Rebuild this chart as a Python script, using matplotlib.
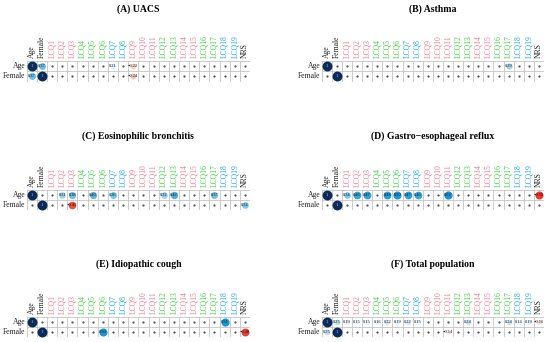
import numpy as np
import matplotlib
matplotlib.use("Agg")
import matplotlib.pyplot as plt
from matplotlib.colors import LinearSegmentedColormap

columns = ["Age", "Female"] + [f"LCQ{i}" for i in range(1, 20)] + ["NRS"]
rows = ["Age", "Female"]
col_groups = ["k", "k", "p", "p", "p", "g", "g", "g", "b", "b", "p", "p", "p",
              "g", "g", "p", "p", "g", "g", "b", "b", "k"]

titles = ["(A) UACS", "(B) Asthma", "(C) Eosinophilic bronchitis",
          "(D) Gastro\u2212esophageal reflux", "(E) Idiopathic cough", "(F) Total population"]

#              Age  Fem  L1   L2   L3   L4   L5   L6   L7   L8   L9   L10  L11  L12  L13  L14  L15  L16  L17  L18  L19  NRS
uacs_age    = [1, 0.37, 0, 0, 0, 0, 0, 0, 0.21, 0, -0.22, 0, 0, 0, 0, 0, 0, 0, 0, 0, 0, 0]
uacs_female = [0.37, 1, 0, 0, 0, 0, 0, 0, 0, 0, -0.24, 0, 0, 0, 0, 0, 0, 0, 0, 0, 0, 0]
asthma_age    = [1, 0, 0, 0, 0, 0, 0, 0, 0, 0, 0, 0, 0, 0, 0, 0, 0, 0, 0.29, 0, 0, 0]
asthma_female = [0, 1, 0, 0, 0, 0, 0, 0, 0, 0, 0, 0, 0, 0, 0, 0, 0, 0, 0, 0, 0, 0]
eb_age    = [1, 0, 0, 0.31, 0.38, 0, 0.4, 0, 0.36, 0, 0, 0, 0, 0.32, 0.42, 0, 0, 0, 0.37, 0, 0, 0]
eb_female = [0, 1, 0, 0, -0.45, 0, 0, 0, 0, 0, 0, 0, 0, 0, 0, 0, 0, 0, 0, 0, 0, 0.34]
gerc_age    = [1, 0, 0.34, 0.46, 0.47, 0, 0.48, 0.5, 0.47, 0.46, 0, 0, 0.52, 0, 0, 0, 0, 0, 0, 0, 0, -0.5]
gerc_female = [0, 1, 0, 0, 0, 0, 0, 0, 0, 0, 0, 0, 0, 0, 0, 0, 0, 0, 0, 0, 0, 0]
ic_age    = [1, 0, 0, 0, 0, 0, 0, 0, 0, 0, 0, 0, 0, 0, 0, 0, 0, 0, 0, 0.51, 0, 0]
ic_female = [0, 1, 0, 0, 0, 0, 0, 0.5, 0, 0, 0, 0, 0, 0, 0, 0, 0, 0, 0, 0, 0, -0.48]
total_age    = [1, 0.25, 0.19, 0.15, 0.15, 0.16, 0.22, 0.19, 0.22, 0.15, 0, 0, 0, 0, 0.24, 0, 0, 0, 0.24, 0.14, 0.19, -0.16]
total_female = [0.25, 1, 0, 0, 0, 0, 0, 0, 0, 0, 0, 0, -0.14, 0, 0, 0, 0, 0, 0, 0, 0, 0]

panels = [(uacs_age, uacs_female), (asthma_age, asthma_female), (eb_age, eb_female),
          (gerc_age, gerc_female), (ic_age, ic_female), (total_age, total_female)]

group_colors = {"k": "#222222", "p": "#f27a8c", "g": "#3ccf3c", "b": "#1fa6ee"}

cmap = LinearSegmentedColormap.from_list(
    "corr", [(0.0, "#7a0c0c"), (0.25, "#e8382c"), (0.33, "#f38062"), (0.4, "#fbdcd2"),
             (0.5, "#ffffff"), (0.6, "#e2f2fb"), (0.67, "#80c8ec"), (0.75, "#1c98d5"),
             (0.88, "#145e9c"), (1.0, "#0a2a5a")])

W, H, DPI = 550, 342, 100
fig = plt.figure(figsize=(W / DPI, H / DPI), dpi=DPI)
serif = ["Liberation Serif", "DejaVu Serif"]

left_x = (26.7, 250.0)
right_x = (321.7, 544.0)
row_y = [(61.0, 81.5, 9.0), (189.5, 210.0, 136.5), (316.5, 337.0, 264.0)]

ncol = len(columns)
for k, (age_vals, fem_vals) in enumerate(panels):
    xs = left_x if k % 2 == 0 else right_x
    y0, y1, ty = row_y[k // 2]
    x0, x1 = xs
    ax = fig.add_axes([x0 / W, 1 - y1 / H, (x1 - x0) / W, (y1 - y0) / H])
    ax.set_xlim(-0.5, ncol - 0.5)
    ax.set_ylim(1.5, -0.5)
    ax.axis("off")
    cell_px = (x1 - x0) / ncol
    for i in range(ncol + 1):
        ax.plot([i - 0.5, i - 0.5], [-0.5, 1.5], color="#c4c4c4", lw=0.6, zorder=1)
    for j in range(3):
        ax.plot([-0.5, ncol - 0.5], [j - 0.5, j - 0.5], color="#c4c4c4", lw=0.6, zorder=1)
    for r, vals in enumerate([age_vals, fem_vals]):
        for c, v in enumerate(vals):
            if v == 0:
                ax.scatter([c], [r], s=2.6, color="#555555", zorder=3, linewidths=0)
                continue
            frac = min(0.98, 0.35 + 0.9 * abs(v))
            d_pt = cell_px * frac * 72 / DPI
            ax.scatter([c], [r], s=d_pt ** 2, color=cmap((v + 1) / 2), zorder=2, linewidths=0)
            if v == 1:
                ax.text(c, r, "1", ha="center", va="center", fontsize=3.2,
                        color="#cccccc", family=serif, zorder=4)
            else:
                ax.text(c, r, f"{v:.2f}".replace("-", "\u2212"), ha="center", va="center",
                        fontsize=3.2, color="#111111", family=serif, zorder=4)
    for c, (lab, g) in enumerate(zip(columns, col_groups)):
        fig.text((x0 + (c + 0.5) * cell_px) / W, 1 - (y0 - 2.5) / H, lab, rotation=90,
                 ha="center", va="bottom", fontsize=5.5, color=group_colors[g], family=serif)
    rh = (y1 - y0) / 2
    for r, lab in enumerate(rows):
        fig.text((x0 - 1.5) / W, 1 - (y0 + (r + 0.5) * rh) / H, lab, ha="right", va="center",
                 fontsize=5.5, color="#222222", family=serif)
    fig.text((x0 + x1) / 2 / W, 1 - ty / H, titles[k], ha="center", va="center",
             fontsize=7, fontweight="bold", family=serif)

fig.savefig("out.png", dpi=DPI)
